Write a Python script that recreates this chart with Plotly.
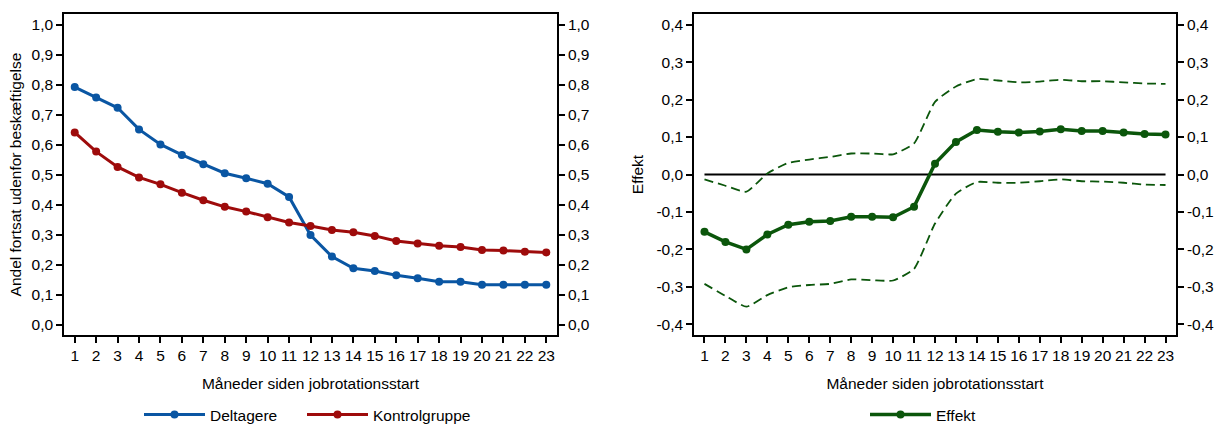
import plotly.graph_objects as go

# ---------------- data ----------------
months = list(range(1, 24))

deltagere = [0.793, 0.758, 0.724, 0.652, 0.602, 0.567, 0.536, 0.506, 0.489, 0.471, 0.427,
             0.300, 0.228, 0.189, 0.180, 0.166, 0.156, 0.144, 0.144, 0.134, 0.134, 0.134, 0.134]
kontrolgruppe = [0.642, 0.578, 0.527, 0.492, 0.469, 0.441, 0.416, 0.394, 0.378, 0.359, 0.342,
                 0.330, 0.317, 0.309, 0.297, 0.280, 0.272, 0.264, 0.260, 0.250, 0.248, 0.244, 0.242]

effekt = [-0.153, -0.180, -0.200, -0.160, -0.134, -0.126, -0.124, -0.113, -0.113, -0.114, -0.086,
          0.029, 0.087, 0.119, 0.114, 0.112, 0.115, 0.121, 0.116, 0.116, 0.112, 0.108, 0.107]
ci_upper = [-0.013, -0.030, -0.046, 0.003, 0.031, 0.040, 0.047, 0.056, 0.056, 0.054, 0.083,
            0.194, 0.235, 0.255, 0.251, 0.246, 0.248, 0.253, 0.249, 0.249, 0.246, 0.243, 0.242]
ci_lower = [-0.292, -0.324, -0.353, -0.322, -0.301, -0.295, -0.292, -0.280, -0.282, -0.283, -0.252,
            -0.131, -0.051, -0.020, -0.022, -0.022, -0.018, -0.013, -0.018, -0.019, -0.022, -0.027, -0.028]
zero_ref = [0.0] * len(months)

left_tickvals = [0.0, 0.1, 0.2, 0.3, 0.4, 0.5, 0.6, 0.7, 0.8, 0.9, 1.0]
left_ticktext = ["0,0", "0,1", "0,2", "0,3", "0,4", "0,5", "0,6", "0,7", "0,8", "0,9", "1,0"]
right_tickvals = [-0.4, -0.3, -0.2, -0.1, 0.0, 0.1, 0.2, 0.3, 0.4]
right_ticktext = ["-0,4", "-0,3", "-0,2", "-0,1", "0,0", "0,1", "0,2", "0,3", "0,4"]
month_ticktext = [str(m) for m in months]

# ---------------- style ----------------
BLUE = "#0a56a3"
RED = "#9e0b0b"
GREEN = "#0b560b"
FONT = "Liberation Sans, Arial, Helvetica, sans-serif"
TICK_SIZE = 15.5
TITLE_SIZE = 15.5
W, H = 1215, 425

L1, R1 = 64 / W, 557 / W
L2, R2 = 694 / W, 1176 / W
YB, YT = 1 - 335 / H, 1 - 14 / H

fig = go.Figure()

fig.add_trace(go.Scatter(x=months, y=deltagere, name="Deltagere", mode="lines+markers",
                         line=dict(color=BLUE, width=3), marker=dict(color=BLUE, size=8),
                         xaxis="x", yaxis="y", legend="legend"))
fig.add_trace(go.Scatter(x=months, y=kontrolgruppe, name="Kontrolgruppe", mode="lines+markers",
                         line=dict(color=RED, width=3), marker=dict(color=RED, size=8),
                         xaxis="x", yaxis="y", legend="legend3"))
# invisible companion so the mirrored right-hand axis is drawn
fig.add_trace(go.Scatter(x=months, y=deltagere, mode="lines", opacity=0, showlegend=False,
                         hoverinfo="skip", line=dict(width=0), xaxis="x", yaxis="y3"))

fig.add_trace(go.Scatter(x=months, y=zero_ref, mode="lines", showlegend=False,
                         line=dict(color="black", width=2), xaxis="x2", yaxis="y2", hoverinfo="skip"))
fig.add_trace(go.Scatter(x=months, y=ci_upper, mode="lines", showlegend=False,
                         line=dict(color=GREEN, width=1.8, dash="9px,5px", shape="spline", smoothing=0.5),
                         xaxis="x2", yaxis="y2"))
fig.add_trace(go.Scatter(x=months, y=ci_lower, mode="lines", showlegend=False,
                         line=dict(color=GREEN, width=1.8, dash="9px,5px", shape="spline", smoothing=0.5),
                         xaxis="x2", yaxis="y2"))
fig.add_trace(go.Scatter(x=months, y=effekt, name="Effekt", mode="lines+markers",
                         line=dict(color=GREEN, width=3.5), marker=dict(color=GREEN, size=8),
                         xaxis="x2", yaxis="y2", legend="legend2"))
fig.add_trace(go.Scatter(x=months, y=effekt, mode="lines", opacity=0, showlegend=False,
                         hoverinfo="skip", line=dict(width=0), xaxis="x2", yaxis="y4"))

axis_common = dict(showline=True, linecolor="black", linewidth=1.6, ticks="outside", ticklen=6,
                   tickwidth=1.5, tickcolor="black", showgrid=False, zeroline=False,
                   tickfont=dict(family=FONT, size=TICK_SIZE, color="black"))

xcommon = dict(axis_common, range=[0.5, 23.5], tickvals=months, ticktext=month_ticktext, mirror=True,
               title=dict(text="Måneder siden jobrotationsstart",
                          font=dict(family=FONT, size=TITLE_SIZE, color="black"), standoff=15),
               automargin=False)

legend_common = dict(orientation="h", y=1 - 415 / H, yanchor="middle", xanchor="left", itemwidth=61,
                     font=dict(family=FONT, size=TITLE_SIZE, color="black"), bgcolor="rgba(0,0,0,0)")

fig.update_layout(
    width=W, height=H,
    margin=dict(l=0, r=0, t=0, b=0, autoexpand=False),
    paper_bgcolor="white", plot_bgcolor="white",
    font=dict(family=FONT, size=14, color="black"),
    xaxis=dict(xcommon, domain=[L1, R1], anchor="y"),
    yaxis=dict(axis_common, domain=[YB, YT], anchor="x", range=[-0.0333, 1.0367],
               tickvals=left_tickvals, ticktext=left_ticktext, automargin=False,
               title=dict(text="Andel fortsat udenfor beskæftigelse",
                          font=dict(family=FONT, size=TITLE_SIZE, color="black"), standoff=6)),
    yaxis3=dict(axis_common, domain=[YB, YT], anchor="x", overlaying="y", side="right",
                range=[-0.0333, 1.0367], tickvals=left_tickvals, ticktext=left_ticktext, automargin=False),
    xaxis2=dict(xcommon, domain=[L2, R2], anchor="y2"),
    yaxis2=dict(axis_common, domain=[YB, YT], anchor="x2", range=[-0.4285, 0.4285],
                tickvals=right_tickvals, ticktext=right_ticktext, automargin=False,
                title=dict(text="Effekt", font=dict(family=FONT, size=TITLE_SIZE, color="black"), standoff=9)),
    yaxis4=dict(axis_common, domain=[YB, YT], anchor="x2", overlaying="y2", side="right",
                range=[-0.4285, 0.4285], tickvals=right_tickvals, ticktext=right_ticktext, automargin=False),
    legend=dict(legend_common, x=139 / W),
    legend3=dict(legend_common, x=302 / W),
    legend2=dict(legend_common, x=865 / W),
)

fig.write_html("out.html", config={"displayModeBar": False},
               post_script="document.body.style.margin='0px';document.body.style.padding='0px';")
